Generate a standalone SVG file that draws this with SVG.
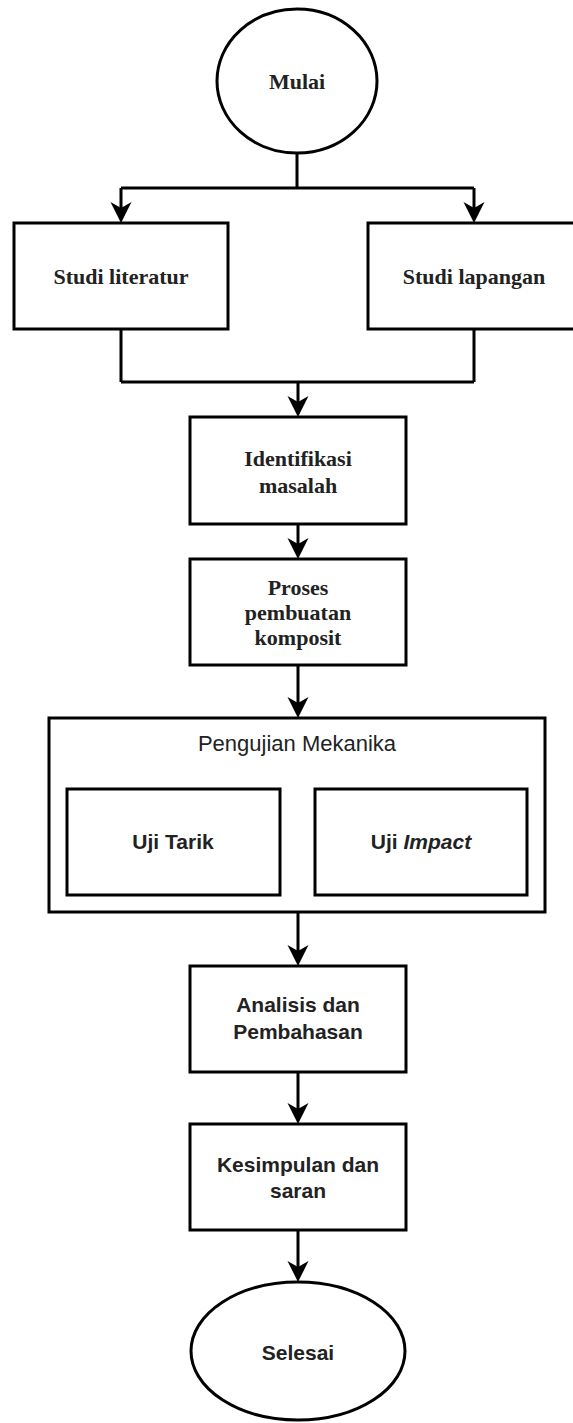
<svg xmlns="http://www.w3.org/2000/svg" width="573" height="1423" viewBox="0 0 573 1423">
<style>
.shape{fill:#fff;stroke:#000;stroke-width:3}
.line{fill:none;stroke:#000;stroke-width:3}
.serif{font-family:"Liberation Serif","Times New Roman",serif;font-weight:bold;font-size:22px;fill:#222;text-anchor:middle}
.sans{font-family:"Liberation Sans",Arial,sans-serif;font-size:21px;fill:#222;text-anchor:middle}
.title{font-size:22px}
.b{font-weight:bold}
</style>
<defs>
<path id="ah" d="M0,0 L-10.5,-21 L0,-15 L10.5,-21 Z" fill="#000"/>
</defs>
<rect width="573" height="1423" fill="#fff"/>
<g id="connectors">
<path class="line" d="M297,153 V188 M121,188 H474 M121,188 V210 M474,188 V210"/>
<path class="line" d="M121,329 V382 M474,329 V382 M121,382 H474 M298,382 V404"/>
<path class="line" d="M298,524 V546"/>
<path class="line" d="M298,665 V705"/>
<path class="line" d="M298,912 V953"/>
<path class="line" d="M298,1072 V1111"/>
<path class="line" d="M298,1230 V1269"/>
<use href="#ah" x="121" y="223"/>
<use href="#ah" x="474" y="223"/>
<use href="#ah" x="298" y="417"/>
<use href="#ah" x="298" y="559"/>
<use href="#ah" x="298" y="718"/>
<use href="#ah" x="298" y="966"/>
<use href="#ah" x="298" y="1124"/>
<use href="#ah" x="298" y="1282"/>
</g>
<g id="mulai">
<ellipse class="shape" cx="297" cy="81" rx="80" ry="72"/>
<text class="serif" x="297" y="89">Mulai</text>
</g>
<g id="studi-literatur">
<rect class="shape" x="14" y="223" width="214" height="106"/>
<text class="serif" x="121" y="284">Studi literatur</text>
</g>
<g id="studi-lapangan">
<rect class="shape" x="368" y="223" width="214" height="106"/>
<text class="serif" x="474" y="284">Studi lapangan</text>
</g>
<g id="identifikasi">
<rect class="shape" x="190" y="417" width="216" height="107"/>
<text class="serif" x="298" y="466">Identifikasi</text>
<text class="serif" x="298" y="493">masalah</text>
</g>
<g id="proses">
<rect class="shape" x="190" y="559" width="216" height="106"/>
<text class="serif" x="298" y="595">Proses</text>
<text class="serif" x="298" y="620">pembuatan</text>
<text class="serif" x="298" y="645">komposit</text>
</g>
<g id="pengujian">
<rect class="shape" x="49" y="718" width="496" height="194"/>
<text class="sans title" x="297" y="751">Pengujian Mekanika</text>
</g>
<g id="uji-tarik">
<rect class="shape" x="67" y="789" width="213" height="106"/>
<text class="sans b" x="173" y="849">Uji Tarik</text>
</g>
<g id="uji-impact">
<rect class="shape" x="315" y="789" width="212" height="106"/>
<text class="sans b" x="421" y="849">Uji <tspan font-style="italic">Impact</tspan></text>
</g>
<g id="analisis">
<rect class="shape" x="190" y="966" width="216" height="106"/>
<text class="sans b" x="298" y="1012">Analisis dan</text>
<text class="sans b" x="298" y="1039">Pembahasan</text>
</g>
<g id="kesimpulan">
<rect class="shape" x="190" y="1124" width="216" height="106"/>
<text class="sans b" x="298" y="1172">Kesimpulan dan</text>
<text class="sans b" x="298" y="1198">saran</text>
</g>
<g id="selesai">
<ellipse class="shape" cx="298" cy="1351" rx="107" ry="69"/>
<text class="sans b" x="298" y="1360">Selesai</text>
</g>
</svg>
